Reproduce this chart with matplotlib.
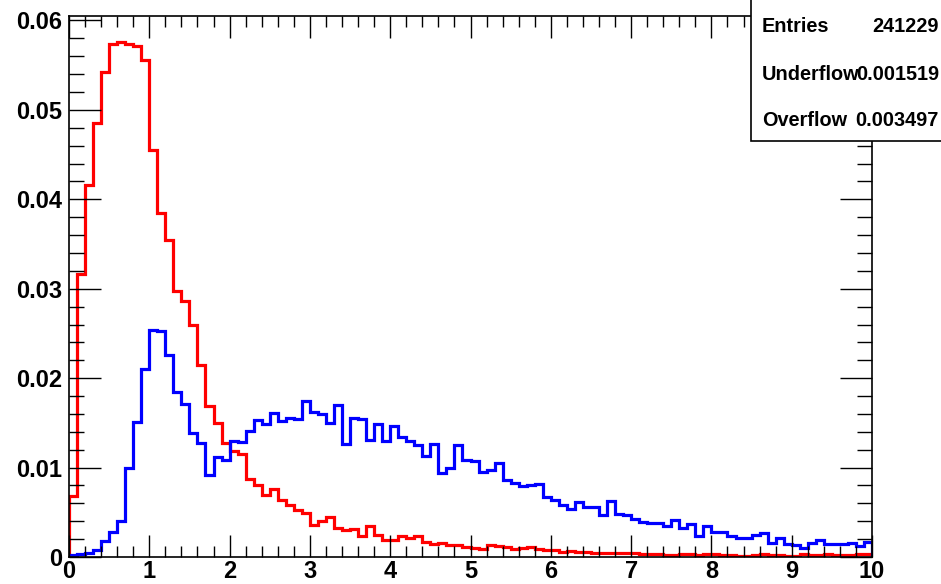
import matplotlib
matplotlib.use("Agg")
import matplotlib.pyplot as plt
import numpy as np
from matplotlib.patches import Rectangle
from matplotlib.ticker import MultipleLocator

plt.rcParams["font.family"] = ["Liberation Sans", "DejaVu Sans"]
plt.rcParams["font.weight"] = "bold"

# 100 bins of width 0.1 on [0, 10]
edges = np.linspace(0, 10, 101)

red = [
    0.0068, 0.0316, 0.0416, 0.0485, 0.0542, 0.0574, 0.0576, 0.0574, 0.0572, 0.0556,
    0.0455, 0.0385, 0.0354, 0.0297, 0.0286, 0.0260, 0.0215, 0.0169, 0.0150, 0.0127,
    0.0119, 0.0115, 0.0087, 0.0081, 0.0069, 0.0076, 0.0064, 0.0058, 0.0053, 0.0049,
    0.0036, 0.0040, 0.0045, 0.0032, 0.0030, 0.0031, 0.0023, 0.0035, 0.0025, 0.0019,
    0.0019, 0.0023, 0.0021, 0.0023, 0.0017, 0.0015, 0.0016, 0.0013, 0.0013, 0.0011,
    0.0010, 0.0009, 0.0013, 0.0012, 0.0011, 0.0009, 0.0010, 0.0011, 0.0009, 0.0008,
    0.0008, 0.0006, 0.0007, 0.0006, 0.0006, 0.0005, 0.0005, 0.0004, 0.0005, 0.0004,
    0.0004, 0.0003, 0.0003, 0.0003, 0.0002, 0.0002, 0.0003, 0.0003, 0.0002, 0.0003,
    0.0003, 0.0002, 0.0002, 0.0001, 0.0001, 0.0002, 0.0003, 0.0002, 0.0002, 0.0001,
    0.0001, 0.0003, 0.0002, 0.0002, 0.0003, 0.0002, 0.0002, 0.0002, 0.0003, 0.0003,
]

blue = [
    0.0002, 0.0003, 0.0005, 0.0008, 0.0018, 0.0028, 0.0040, 0.0100, 0.0151, 0.0210,
    0.0254, 0.0253, 0.0226, 0.0185, 0.0171, 0.0139, 0.0127, 0.0092, 0.0112, 0.0108,
    0.0130, 0.0129, 0.0141, 0.0153, 0.0149, 0.0161, 0.0152, 0.0155, 0.0154, 0.0175,
    0.0162, 0.0160, 0.0150, 0.0170, 0.0126, 0.0156, 0.0154, 0.0131, 0.0149, 0.0130,
    0.0146, 0.0134, 0.0130, 0.0125, 0.0113, 0.0126, 0.0094, 0.0099, 0.0125, 0.0108,
    0.0107, 0.0095, 0.0097, 0.0105, 0.0086, 0.0083, 0.0079, 0.0080, 0.0082, 0.0067,
    0.0064, 0.0058, 0.0054, 0.0062, 0.0056, 0.0056, 0.0047, 0.0063, 0.0048, 0.0047,
    0.0043, 0.0039, 0.0038, 0.0038, 0.0035, 0.0041, 0.0033, 0.0037, 0.0024, 0.0035,
    0.0028, 0.0028, 0.0023, 0.0021, 0.0021, 0.0025, 0.0027, 0.0016, 0.0021, 0.0015,
    0.0013, 0.0010, 0.0016, 0.0019, 0.0015, 0.0015, 0.0014, 0.0016, 0.0012, 0.0017,
]

ytick_vals = [0, 0.01, 0.02, 0.03, 0.04, 0.05, 0.06]
ytick_labels = ["0", "0.01", "0.02", "0.03", "0.04", "0.05", "0.06"]

stats_labels = ["Entries", "Underflow", "Overflow"]
stats_values = ["241229", "0.001519", "0.003497"]

fig = plt.figure(figsize=(9.41, 5.84), dpi=100)
ax = fig.add_axes([0.0733, 0.0462, 0.8534, 0.9264])

ax.stairs(red, edges, baseline=0, color="#ff0000", lw=2.3)
ax.stairs(blue, edges, baseline=0, color="#0000ff", lw=2.3)

ax.set_xlim(0, 10)
ax.set_ylim(0, 0.0605)

ax.xaxis.set_major_locator(MultipleLocator(1))
ax.xaxis.set_minor_locator(MultipleLocator(0.2))
ax.yaxis.set_minor_locator(MultipleLocator(0.002))
ax.set_yticks(ytick_vals)
ax.set_yticklabels(ytick_labels)

ax.tick_params(which="both", direction="in", top=True, right=True, width=1)
ax.tick_params(which="major", axis="x", length=16)
ax.tick_params(which="minor", axis="x", length=8)
ax.tick_params(which="major", axis="y", length=23)
ax.tick_params(which="minor", axis="y", length=11)
ax.tick_params(axis="y", labelsize=17, pad=5)
ax.tick_params(axis="x", labelsize=17, pad=2)
for lab in ax.get_xticklabels() + ax.get_yticklabels():
    lab.set_fontweight("bold")
for sp in ax.spines.values():
    sp.set_linewidth(1.2)

# stats box in the top right corner
box = Rectangle((751 / 941, 1 - 141 / 584), 0.3, 0.3, transform=fig.transFigure,
                facecolor="white", edgecolor="black", lw=1.2, zorder=5)
fig.patches.append(box)
for i, (lab, val) in enumerate(zip(stats_labels, stats_values)):
    yy = 1 - (27 + 47 * i) / 584
    fig.text(762 / 941, yy, lab, ha="left", va="center", fontsize=14.3,
             fontweight="bold", zorder=6)
    fig.text(939 / 941, yy, val, ha="right", va="center", fontsize=14.3,
             fontweight="bold", zorder=6)

fig.savefig("out.png", dpi=100)
